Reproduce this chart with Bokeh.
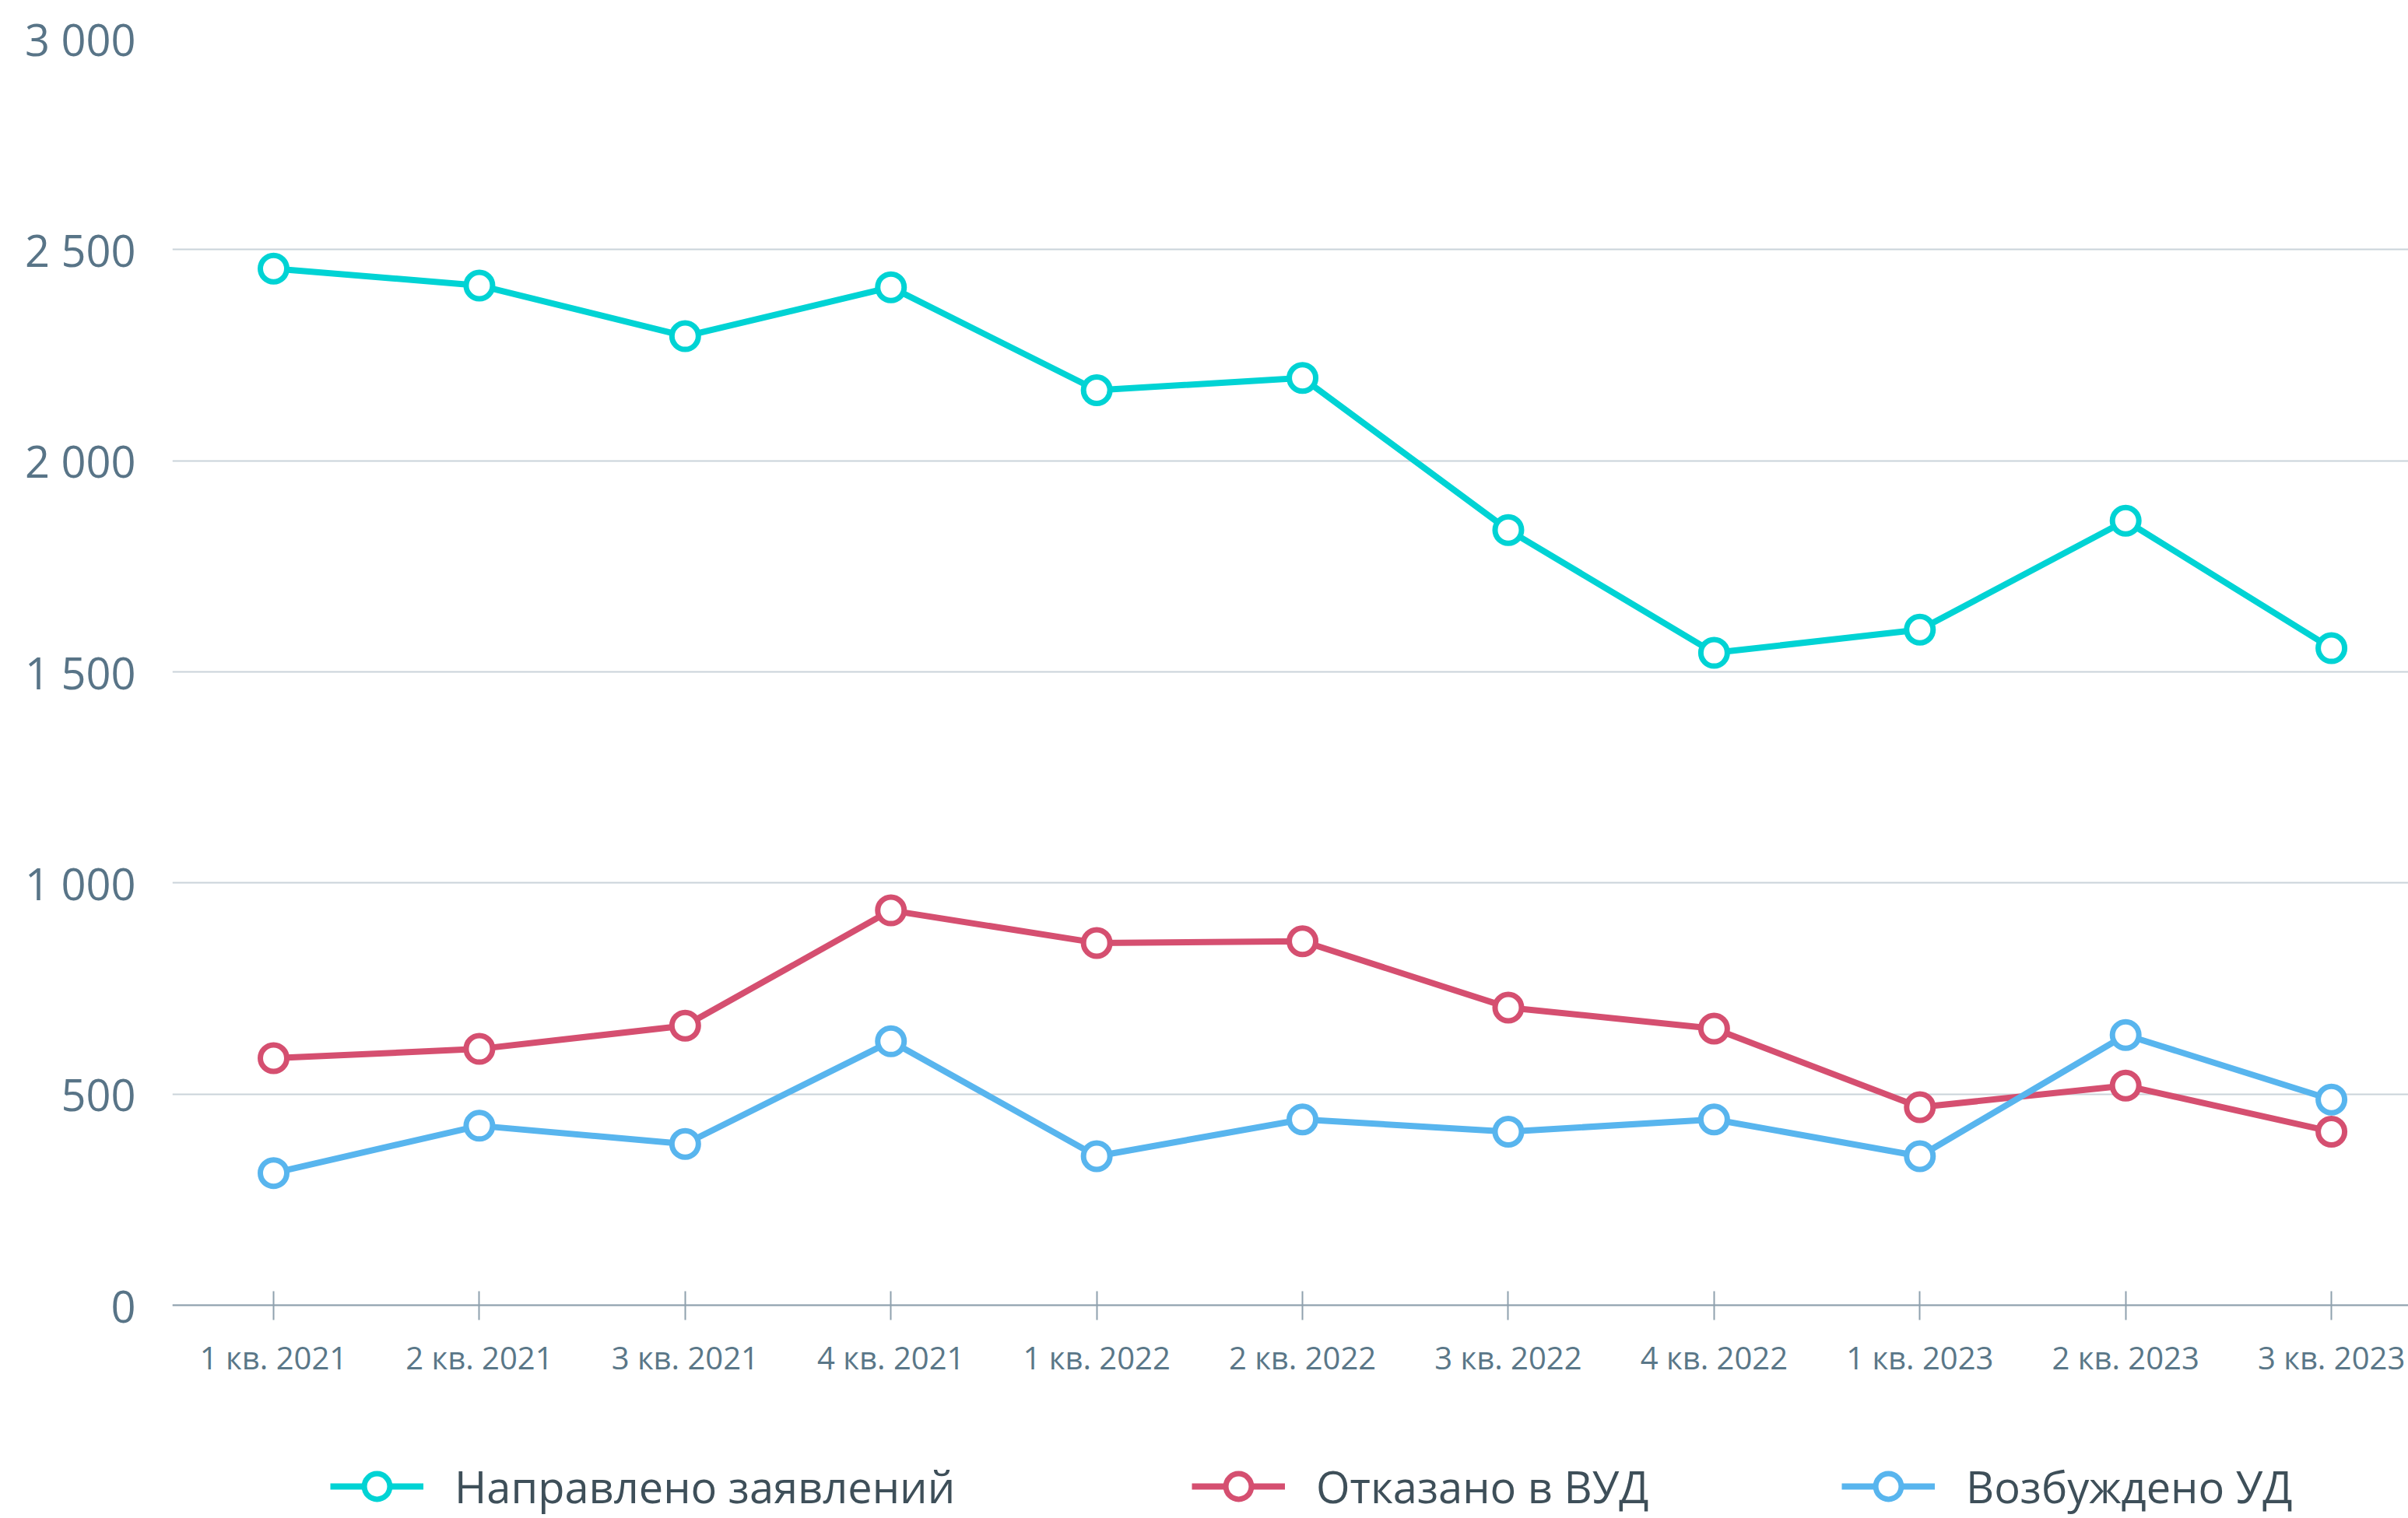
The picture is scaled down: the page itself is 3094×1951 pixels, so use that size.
from bokeh.plotting import figure
from bokeh.models import Range1d, FixedTicker, Legend, LegendItem
from bokeh.embed import file_html
from bokeh.resources import INLINE

categories = ["1 кв. 2021", "2 кв. 2021", "3 кв. 2021", "4 кв. 2021",
              "1 кв. 2022", "2 кв. 2022", "3 кв. 2022", "4 кв. 2022",
              "1 кв. 2023", "2 кв. 2023", "3 кв. 2023"]
napravleno = [2455, 2415, 2295, 2411, 2167, 2196, 1836, 1545, 1600, 1858, 1556]
otkazano = [585, 607, 662, 935, 858, 862, 705, 655, 469, 520, 411]
vozbuzhdeno = [313, 425, 382, 625, 353, 440, 411, 440, 353, 640, 487]
y_ticks = [0, 500, 1000, 1500, 2000, 2500, 3000]
y_tick_labels = ["0", "500", "1 000", "1 500", "2 000", "2 500", "3 000"]
series_names = ["Направлено заявлений", "Отказано в ВУД", "Возбуждено УД"]
series_colors = ["#00D3D4", "#D54F70", "#58B5EE"]

W, H = 3094, 1951
FONT = "Open Sans"

p = figure(width=W, height=H, output_backend="svg", toolbar_location=None,
           x_range=Range1d(-0.4917, 10.374), y_range=Range1d(-504.9, 3000),
           min_border_left=221, min_border_right=0, min_border_top=49,
           min_border_bottom=0)
p.outline_line_color = None
p.background_fill_color = "white"
p.border_fill_color = "white"

xs = list(range(len(categories)))
renderers = []
for vals, color in zip([napravleno, otkazano, vozbuzhdeno], series_colors):
    l = p.line(xs, vals, line_color=color, line_width=8)
    s = p.scatter(xs, vals, size=34, line_color=color, line_width=7,
                  fill_color="white")
    renderers.append([l, s])

# axes
p.xaxis.fixed_location = 0
p.xaxis.ticker = FixedTicker(ticks=xs)
p.xaxis.major_label_overrides = {i: c for i, c in enumerate(categories)}
p.xaxis.major_label_text_font = FONT
p.xaxis.major_label_text_font_size = "40px"
p.xaxis.major_label_text_color = "#5A7788"
p.xaxis.axis_line_color = "#8FA1AE"
p.xaxis.axis_line_width = 2
p.xaxis.major_tick_line_color = "#8FA1AE"
p.xaxis.major_tick_line_width = 2
p.xaxis.major_tick_in = 18
p.xaxis.major_tick_out = 19
p.xaxis.minor_tick_line_color = None
p.xaxis.major_label_standoff = 20

p.yaxis.ticker = FixedTicker(ticks=y_ticks)
p.yaxis.major_label_overrides = {t: s for t, s in zip(y_ticks, y_tick_labels)}
p.yaxis.major_label_text_font = FONT
p.yaxis.major_label_text_font_size = "56px"
p.yaxis.major_label_text_color = "#587487"
p.yaxis.axis_line_color = None
p.yaxis.major_tick_line_color = None
p.yaxis.minor_tick_line_color = None
p.yaxis.major_label_standoff = 41

p.xgrid.grid_line_color = None
p.ygrid.grid_line_color = "#CAD3DA"
p.ygrid.grid_line_width = 2

legend_x = [203, 1310, 2145]
for name, rs, lx in zip(series_names, renderers, legend_x):
    lg = Legend(items=[LegendItem(label=name, renderers=rs)],
                location=(lx, 0), orientation="horizontal",
                glyph_width=120, glyph_height=82, label_height=82,
                label_standoff=40, padding=0, margin=0, spacing=0,
                border_line_color=None, background_fill_alpha=0,
                label_text_font=FONT, label_text_font_size="56px",
                label_text_color="#3E4F59")
    p.add_layout(lg, "center")

open("out.html", "w").write(file_html(p, INLINE))
